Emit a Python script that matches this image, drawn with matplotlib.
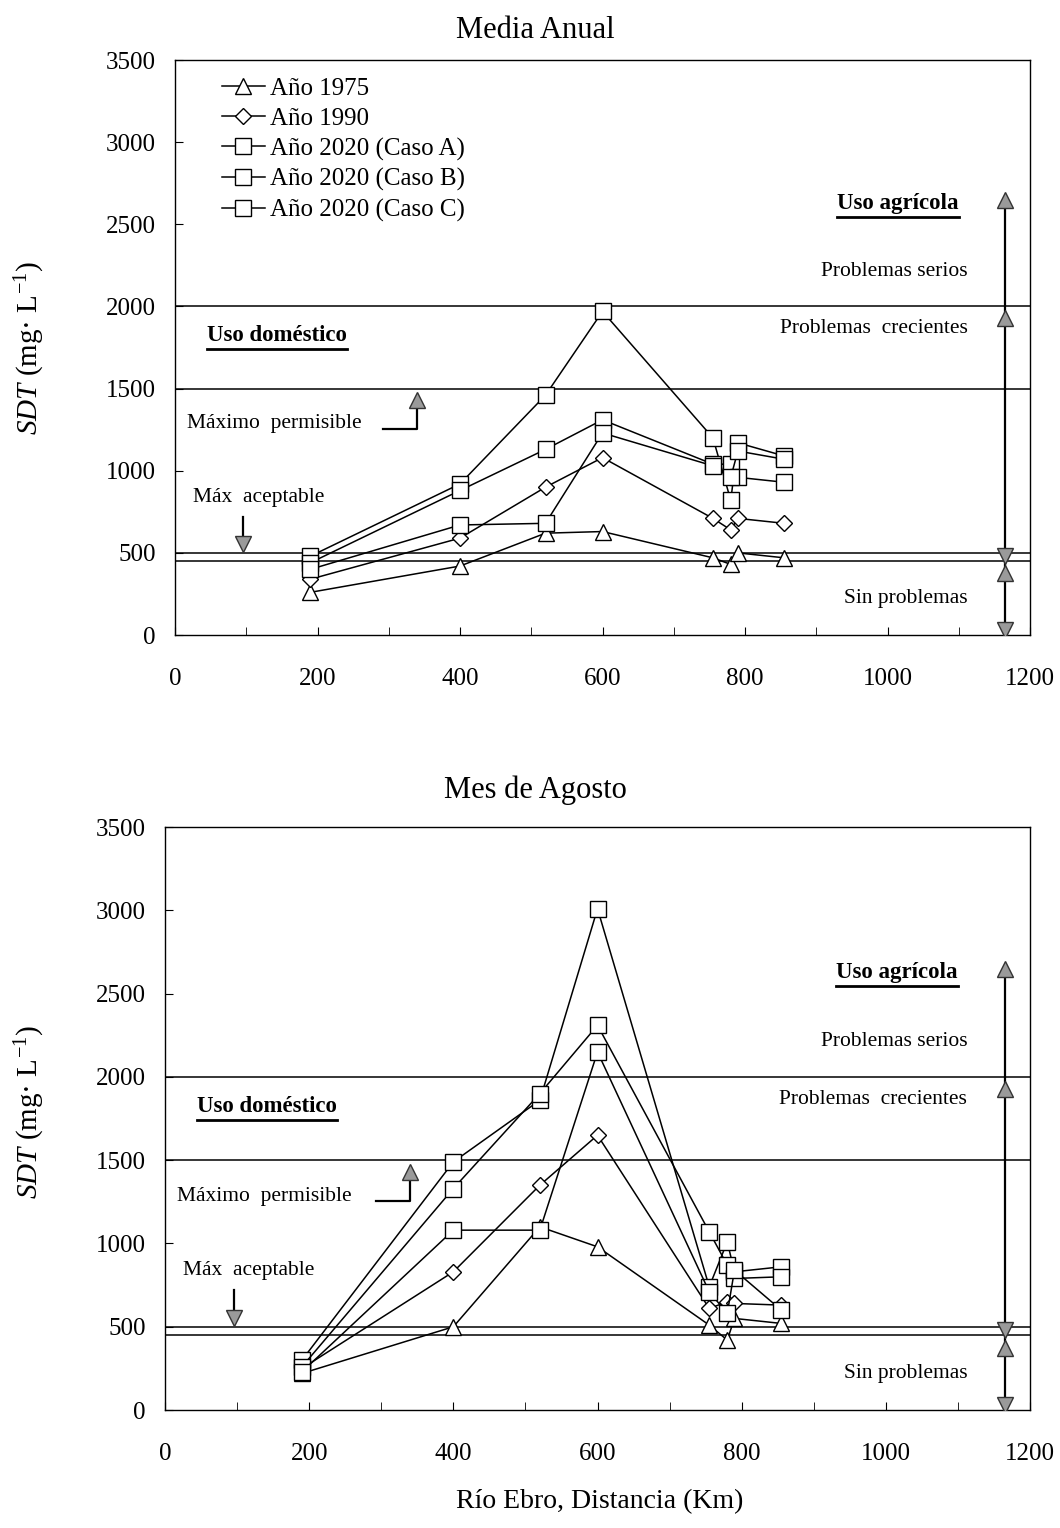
import matplotlib
matplotlib.use("Agg")
import matplotlib.pyplot as plt
from matplotlib.lines import Line2D

plt.rcParams["font.family"] = ["Liberation Serif", "DejaVu Serif"]
plt.rcParams["mathtext.fontset"] = "custom"
plt.rcParams["mathtext.rm"] = "Liberation Serif"
plt.rcParams["mathtext.it"] = "Liberation Serif:italic"

# Distancia a lo largo del Ebro (km)
distance = [190, 400, 520, 600, 755, 780, 790, 855]

# Media anual (mg/L)
annual_1975 = [260, 420, 620, 630, 470, 430, 500, 470]
annual_1990 = [340, 590, 900, 1080, 710, 640, 710, 680]
annual_2020_A = [480, 920, 1460, 1970, 1200, 820, 1170, 1090]
annual_2020_B = [440, 880, 1130, 1310, 1040, 1040, 960, 930]
annual_2020_C = [400, 670, 680, 1230, 1030, 960, 1120, 1070]

# Mes de agosto (mg/L)
august_1975 = [220, 500, 1100, 980, 510, 420, 550, 520]
august_1990 = [250, 830, 1350, 1650, 610, 650, 640, 630]
august_2020_A = [300, 1490, 1860, 3010, 740, 1010, 830, 860]
august_2020_B = [260, 1330, 1900, 2310, 1070, 870, 790, 800]
august_2020_C = [230, 1080, 1080, 2150, 710, 580, 840, 600]

labels = ["Año 1975", "Año 1990", "Año 2020 (Caso A)",
          "Año 2020 (Caso B)", "Año 2020 (Caso C)"]
markers = ["^", "D", "s", "s", "s"]
limits = [450, 500, 1500, 2000]

fig = plt.figure(figsize=(10.6, 15.28), dpi=100)
underlined = []


def marker_size(marker):
    if marker == "D":
        return 8.5
    return 12


def draw_panel(ax, series, legend=False):
    for values, marker, label in zip(series, markers, labels):
        ax.plot(distance, values, color="black", lw=1.1,
                marker=marker, ms=marker_size(marker), mfc="white",
                mec="black", mew=1.0, label=label, zorder=3)
    for limit in limits:
        ax.axhline(limit, color="black", lw=1.1, zorder=2)
    # Flecha de uso agricola
    xa = 1165
    ax.plot([xa, xa], [20, 2650], color="black", lw=1.6, zorder=2)
    for y, m in [(2650, "^"), (1930, "^"), (480, "v"), (375, "^"), (30, "v")]:
        ax.plot(xa, y, marker=m, ms=12, mfc="#9a9a9a", mec="#333333",
                mew=1.0, zorder=4)
    # Maximo permisible
    ax.plot([292, 340, 340], [1255, 1255, 1400], color="black", lw=1.6)
    ax.plot(340, 1430, marker="^", ms=12, mfc="#9a9a9a", mec="#333333")
    ax.text(17, 1285, "Máximo  permisible", fontsize=15.5, va="center")
    # Max aceptable
    ax.plot([95, 95], [720, 580], color="black", lw=1.6)
    ax.plot(95, 555, marker="v", ms=12, mfc="#9a9a9a", mec="#333333")
    ax.text(25, 835, "Máx  aceptable", fontsize=15.5, va="center")
    underlined.append(ax.text(45, 1825, "Uso doméstico", fontsize=16.5,
                              weight="bold", va="center"))
    underlined.append(ax.text(1100, 2625, "Uso agrícola", fontsize=16.5,
                              weight="bold", va="center", ha="right"))
    ax.text(1113, 2210, "Problemas serios", fontsize=15.5, va="center",
            ha="right")
    ax.text(1113, 1865, "Problemas  crecientes", fontsize=15.5,
            va="center", ha="right")
    ax.text(1113, 222, "Sin problemas", fontsize=15.5, va="center",
            ha="right")
    ax.set_xlim(0, 1200)
    ax.set_ylim(0, 3500)
    ax.set_xticks(range(0, 1201, 200))
    ax.set_xticks(range(0, 1201, 100), minor=True)
    ax.set_yticks(range(0, 3501, 500))
    ax.tick_params(axis="both", direction="in", labelsize=18, length=6)
    ax.tick_params(axis="x", which="minor", direction="in", length=6)
    ax.tick_params(axis="x", pad=24)
    ax.tick_params(axis="y", pad=14)
    for spine in ax.spines.values():
        spine.set_linewidth(1.0)
    if legend:
        ax.legend(loc="upper left", bbox_to_anchor=(0.0345, 1.0),
                  frameon=False, fontsize=18, labelspacing=0.3,
                  handlelength=1.7, handletextpad=0.2, borderpad=0.2)


ax_top = fig.add_axes([0.1651, 0.5844, 0.8066, 0.3763])
draw_panel(ax_top, [annual_1975, annual_1990, annual_2020_A,
                    annual_2020_B, annual_2020_C], legend=True)

ax_bottom = fig.add_axes([0.1557, 0.0772, 0.8160, 0.3815])
draw_panel(ax_bottom, [august_1975, august_1990, august_2020_A,
                       august_2020_B, august_2020_C])

fig.text(0.505, 1 - 30 / 1528, "Media Anual", fontsize=22,
         ha="center", va="center")
fig.text(0.505, 1 - 790 / 1528, "Mes de Agosto", fontsize=22,
         ha="center", va="center")
fig.text(0.028, 0.772, r"$SDT$ (mg· L$^{-1}$)", rotation=90,
         fontsize=21, ha="center", va="center")
fig.text(0.028, 0.272, r"$SDT$ (mg· L$^{-1}$)", rotation=90,
         fontsize=21, ha="center", va="center")
fig.text(0.566, 1 - 1502 / 1528, "Río Ebro, Distancia (Km)", fontsize=20,
         ha="center", va="center")

# Subrayado de los encabezados
fig.canvas.draw()
renderer = fig.canvas.get_renderer()
for text in underlined:
    box = text.get_window_extent(renderer).transformed(
        fig.transFigure.inverted())
    fig.add_artist(Line2D([box.x0, box.x1], [box.y0 - 0.002, box.y0 - 0.002],
                          color="black", lw=2.0))

fig.savefig("out.png", dpi=100)
